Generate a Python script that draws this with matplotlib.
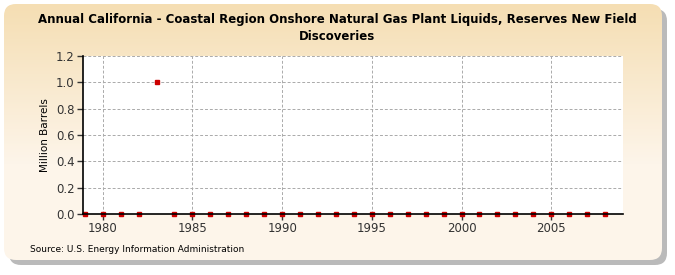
import matplotlib
matplotlib.use("Agg")
import matplotlib.pyplot as plt
import numpy as np
from matplotlib.patches import FancyBboxPatch

years = list(range(1979, 2009))
values = [0, 0, 0, 0, 1.0] + [0] * 25

fig = plt.figure(figsize=(6.75, 2.75), dpi=100)

# background panel with shadow and gradient
bg = fig.add_axes([0, 0, 1, 1], zorder=-10)
bg.set_xlim(0, 675)
bg.set_ylim(275, 0)
bg.axis("off")
shadow = FancyBboxPatch((9, 9), 658, 256, boxstyle="round,pad=0,rounding_size=12",
                        fc="#a9a9a9", ec="none", alpha=0.8, zorder=1)
bg.add_patch(shadow)
panel = FancyBboxPatch((4, 4), 658, 256, boxstyle="round,pad=0,rounding_size=12",
                       fc="none", ec="none")
bg.add_patch(panel)
grad = np.linspace(0, 1, 256).reshape(-1, 1)
top = np.array([245, 222, 179]) / 255
bot = np.array([253, 245, 234]) / 255
img = top + (bot - top) * np.clip(grad * 1.6, 0, 1)[:, :, None] * np.ones((1, 1, 3))
im = bg.imshow(img, extent=(4, 662, 260, 4), aspect="auto", zorder=2)
im.set_clip_path(panel)

ax = fig.add_axes([83 / 675, 1 - 214 / 275, 540 / 675, 158 / 275])
ax.set_facecolor("white")
ax.plot(years, values, linestyle="none", marker="s", ms=3.5, color="#cc0000", clip_on=False, zorder=2)

ax.set_xlim(1978.9, 2009)
ax.set_ylim(0, 1.2)
ax.set_xticks([1980, 1985, 1990, 1995, 2000, 2005])
ax.set_yticks([0.0, 0.2, 0.4, 0.6, 0.8, 1.0, 1.2])
ax.set_yticklabels(["0.0", "0.2", "0.4", "0.6", "0.8", "1.0", "1.2"])
ax.grid(True, linestyle=(0, (3, 2)), color="#aaaaaa", linewidth=0.7)
for s in ["top", "right"]:
    ax.spines[s].set_visible(False)
ax.spines["left"].set_linewidth(1.2)
ax.spines["bottom"].set_linewidth(1.2)
ax.tick_params(labelsize=8.5, length=4, width=1, pad=2, colors="#333333")
ax.set_ylabel("Million Barrels", fontsize=7.5)

fig.text(0.5, 1 - 28 / 275, "Annual California - Coastal Region Onshore Natural Gas Plant Liquids, Reserves New Field\nDiscoveries",
         ha="center", va="center", fontsize=8.5, fontweight="bold", linespacing=1.35)
fig.text(30 / 675, 1 - 249 / 275, "Source: U.S. Energy Information Administration", fontsize=6.5, va="center")

fig.savefig("out.png", dpi=100)
